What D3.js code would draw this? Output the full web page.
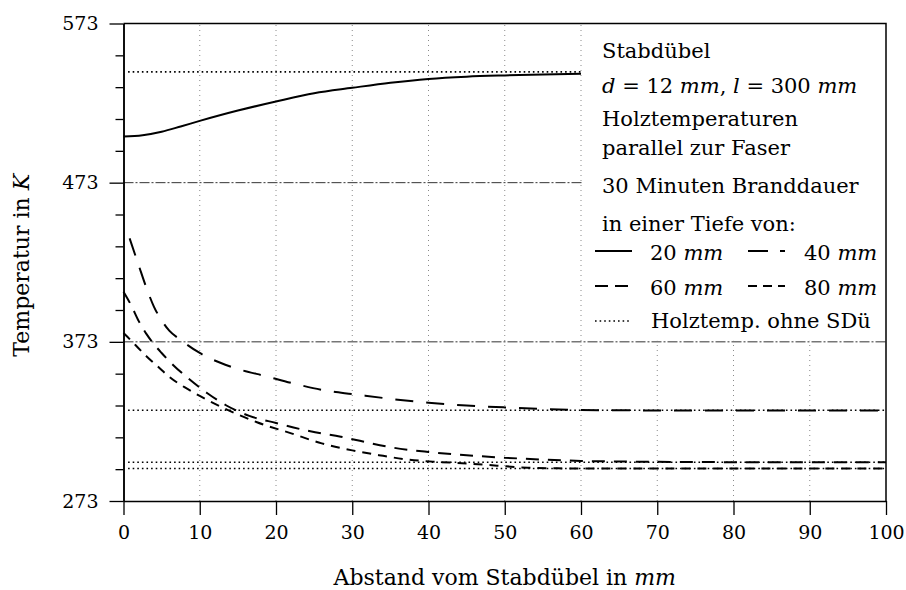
<!DOCTYPE html>
<html>
<head>
<meta charset="utf-8">
<script src="https://cdn.jsdelivr.net/npm/d3@7/dist/d3.min.js"></script>
<style>
  body { margin: 0; background: #fff; }
  svg { display: block; }
</style>
</head>
<body>
<script>
// values: distance in mm, temperature in K
const dist20 = [0, 2.5, 5, 7.5, 10, 15, 20, 25, 30, 35, 40, 45, 50, 55, 60];
const temp20 = [502, 502.8, 505, 508.3, 511.8, 518.3, 524, 529.2, 532.6, 535.8, 538.2, 539.6, 540.4, 541, 541.4];

const dist40 = [0.8, 2, 3, 4, 5, 6, 7.5, 10, 14, 19, 23, 27, 30, 35, 40, 45, 50, 55, 60, 70, 80, 90, 100];
const temp40 = [438, 421, 407, 395, 386.5, 380, 374.2, 366, 357.5, 351, 346, 342, 340.2, 337.2, 334.7, 333, 331.8, 330.8, 330.2, 329.9, 329.8, 329.8, 329.8];

const dist60 = [0, 1, 2, 3, 4, 5, 6.5, 8.5, 11, 13.5, 16.5, 20, 24.5, 28.5, 31, 35, 40, 45, 50, 55, 60, 70, 80, 90, 100];
const temp60 = [404.5, 396, 386, 378, 371.5, 366, 358.5, 350, 340.7, 333, 326.5, 322, 316.8, 313.4, 310.8, 306.8, 303.8, 301.7, 300.2, 299, 298.2, 297.6, 297.4, 297.3, 297.3];

const dist80 = [0, 1, 2, 3, 4.5, 6, 8, 10, 12, 14, 17.5, 22, 26, 30, 33.5, 37, 41, 45, 49, 53, 57, 60, 70, 80, 90, 100];
const temp80 = [378.5, 373.8, 368.8, 364, 357.5, 351, 344.5, 339, 334, 329.5, 322.5, 315.5, 309.2, 304.8, 301.8, 299.2, 297.6, 296.6, 295.2, 293.9, 293.5, 293.4, 293.4, 293.4, 293.4, 293.4];

// wood temperature without dowel (dotted reference lines)
const refTemp = [542.6, 330, 297.3, 293.4];
const refEnd = [60, 100, 100, 100];

const xTicks = [0, 10, 20, 30, 40, 50, 60, 70, 80, 90, 100];
const yMajor = [273, 373, 473, 573];
const yMinor = [293, 313, 333, 353, 393, 413, 433, 453, 493, 513, 533, 553];
const yGrid = [373, 473];

const W = 906, H = 590;
const serif = "'DejaVu Serif', serif";

const svg = d3.select('body').append('svg')
    .attr('width', W).attr('height', H)
    .style('font-family', serif);

const x = d3.scaleLinear().domain([0, 100]).range([123.5, 886]);
const y = d3.scaleLinear().domain([273, 573]).range([501, 23.5]);

// grid
svg.append('g').selectAll('line')
    .data(xTicks.slice(1, -1))
    .enter().append('line')
    .attr('x1', d => x(d)).attr('x2', d => x(d))
    .attr('y1', y(273)).attr('y2', y(573))
    .attr('stroke', '#8a8a8a').attr('stroke-width', 1)
    .attr('stroke-dasharray', '1,4');

svg.append('g').selectAll('line')
    .data(yGrid)
    .enter().append('line')
    .attr('x1', x(0)).attr('x2', x(100))
    .attr('y1', d => y(d)).attr('y2', d => y(d))
    .attr('stroke', '#333').attr('stroke-width', 1)
    .attr('stroke-dasharray', '10,2,2,2');

// reference lines
svg.append('g').selectAll('line')
    .data(refTemp)
    .enter().append('line')
    .attr('x1', x(0.6)).attr('x2', (d, i) => x(refEnd[i]))
    .attr('y1', d => y(d)).attr('y2', d => y(d))
    .attr('stroke', '#000').attr('stroke-width', 1.6)
    .attr('stroke-dasharray', '1.6,3');

// curves
const series = [
    {dist: dist20, temp: temp20, dash: null},
    {dist: dist40, temp: temp40, dash: '18,13'},
    {dist: dist60, temp: temp60, dash: '13,9'},
    {dist: dist80, temp: temp80, dash: '9,7'}
];
const line = d3.line()
    .x(d => x(d[0]))
    .y(d => y(d[1]))
    .curve(d3.curveMonotoneX);

series.forEach(s => {
    svg.append('path')
        .datum(d3.zip(s.dist, s.temp))
        .attr('d', line)
        .attr('fill', 'none')
        .attr('stroke', '#000')
        .attr('stroke-width', 2)
        .attr('stroke-dasharray', s.dash);
});

// legend background covers the grid
svg.append('rect')
    .attr('x', 583).attr('y', y(573))
    .attr('width', x(100) - 583).attr('height', y(373) - y(573) - 1)
    .attr('fill', '#fff');

// axes
const styleAxis = (g, size) => {
    g.select('.domain').attr('stroke-width', 1.5);
    g.selectAll('.tick line').attr('stroke-width', 1.3);
    g.selectAll('text').style('font-family', serif).style('font-size', size + 'px').attr('fill', '#000');
};

svg.append('g')
    .attr('transform', `translate(${x(0)},0)`)
    .call(d3.axisLeft(y).tickValues(yMinor).tickSize(8).tickSizeOuter(0).tickFormat(''))
    .call(g => styleAxis(g, 19));

svg.append('g')
    .attr('transform', `translate(${x(0)},0)`)
    .call(d3.axisLeft(y).tickValues(yMajor).tickSize(14).tickSizeOuter(0).tickPadding(11).tickFormat(d3.format('d')))
    .call(g => styleAxis(g, 19));

svg.append('g')
    .attr('transform', `translate(0,${y(273)})`)
    .call(d3.axisBottom(x).tickValues(xTicks).tickSize(14).tickSizeOuter(0).tickPadding(11))
    .call(g => styleAxis(g, 19));

// frame top and right
svg.append('path')
    .attr('d', `M${x(0)},${y(573)}H${x(100)}V${y(273)}`)
    .attr('fill', 'none').attr('stroke', '#000').attr('stroke-width', 1.5);

// axis titles
svg.append('text')
    .attr('transform', `translate(29,${(y(273) + y(573)) / 2 + 3}) rotate(-90)`)
    .attr('text-anchor', 'middle')
    .style('font-size', '22px')
    .call(t => {
        t.append('tspan').text('Temperatur in ');
        t.append('tspan').style('font-style', 'italic').text('K');
    });

svg.append('text')
    .attr('x', (x(0) + x(100)) / 2).attr('y', 585)
    .attr('text-anchor', 'middle')
    .style('font-size', '22px')
    .call(t => {
        t.append('tspan').text('Abstand vom Stabdübel in ');
        t.append('tspan').style('font-style', 'italic').text('mm');
    });

// legend text
const legend = svg.append('g').style('font-size', '21px');
const addText = (yy, parts) => {
    const t = legend.append('text').attr('x', 602).attr('y', yy);
    parts.forEach(p => {
        t.append('tspan').style('font-style', p[1] ? 'italic' : 'normal').text(p[0]);
    });
    return t;
};
addText(58, [['Stabdübel']]);
addText(93, [['d', 1], [' = 12 '], ['mm', 1], [', '], ['l', 1], [' = 300 '], ['mm', 1]]);
addText(126, [['Holztemperaturen']]);
addText(155, [['parallel zur Faser']]);
addText(193, [['30 Minuten Branddauer']]);
addText(231, [['in einer Tiefe von:']]);

const legendItems = [
    {label: '20 ', dash: null, lx: 595, tx: 650, ly: 251, ty: 260},
    {label: '40 ', dash: '20,12', lx: 748, tx: 804, ly: 251, ty: 260},
    {label: '60 ', dash: '13,7', lx: 595, tx: 650, ly: 286, ty: 295},
    {label: '80 ', dash: '9,6', lx: 748, tx: 804, ly: 286, ty: 295}
];
legendItems.forEach(it => {
    legend.append('line')
        .attr('x1', it.lx).attr('x2', it.lx + 37)
        .attr('y1', it.ly).attr('y2', it.ly)
        .attr('stroke', '#000').attr('stroke-width', 2)
        .attr('stroke-dasharray', it.dash);
    const t = legend.append('text').attr('x', it.tx).attr('y', it.ty);
    t.append('tspan').text(it.label);
    t.append('tspan').style('font-style', 'italic').text('mm');
});
legend.append('line')
    .attr('x1', 595).attr('x2', 630)
    .attr('y1', 321).attr('y2', 321)
    .attr('stroke', '#000').attr('stroke-width', 1.6)
    .attr('stroke-dasharray', '1.6,3');
legend.append('text').attr('x', 651).attr('y', 328).text('Holztemp. ohne SDü');
</script>
</body>
</html>
